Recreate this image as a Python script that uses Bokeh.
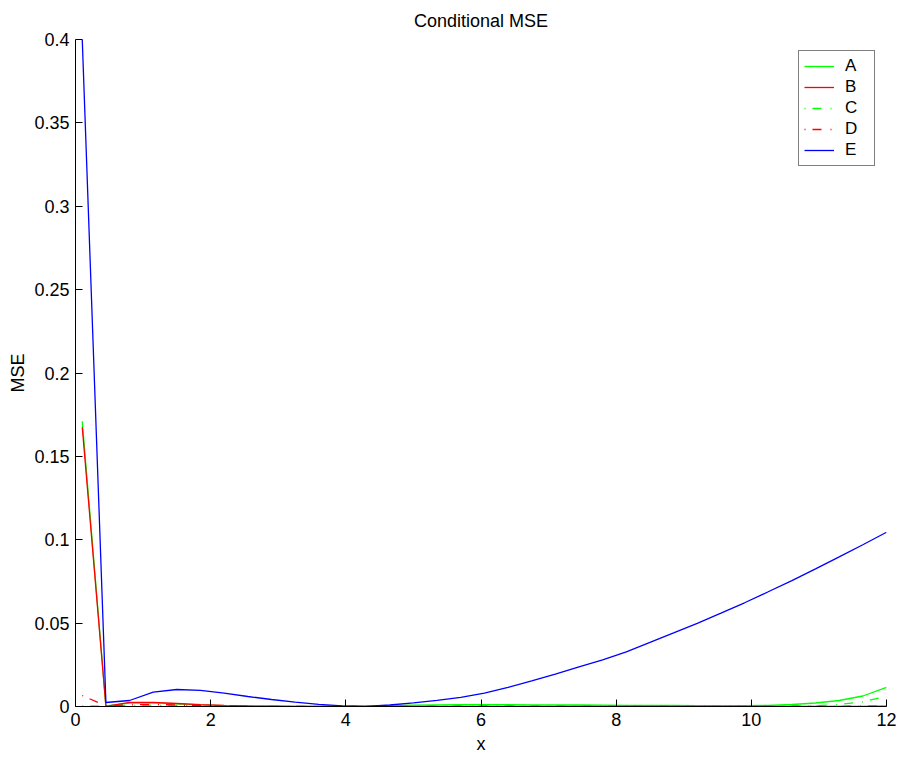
from bokeh.plotting import figure
from bokeh.models import Range1d, FixedTicker, CustomJSTickFormatter, Legend, LegendItem
from bokeh.embed import file_html
from bokeh.resources import INLINE

x = [0.1, 0.45, 0.8, 1.15, 1.5, 1.85, 2.2, 2.55, 2.9, 3.25, 3.6, 3.95, 4.3, 4.65,
     5.0, 5.35, 5.7, 6.05, 6.4, 6.75, 7.1, 7.45, 7.8, 8.15, 8.5, 8.85, 9.2, 9.55,
     9.9, 10.25, 10.6, 10.95, 11.3, 11.65, 12.0]

series_a = [0.171, 0.0003, 0.0020, 0.0022, 0.0016, 0.0009, 0.0005, 0.0003, 0.0002, 0.0001,
            0.0001, 0.0001, 0.0002, 0.0005, 0.0008, 0.0010, 0.0011, 0.0011, 0.0011, 0.0010,
            0.0010, 0.0009, 0.0008, 0.0007, 0.0006, 0.0006, 0.0005, 0.0005, 0.0005, 0.0007,
            0.0012, 0.0021, 0.0036, 0.0063, 0.0115]
series_b = [0.1675, 0.0001, 0.0025, 0.0025, 0.0018, 0.0011, 0.0006, 0.0003, 0.0002, 0.0001,
            0.0001, 0.0001, 0.0001, 0.0001, 0.0001, 0.0001, 0.0001, 0.0001, 0.0001, 0.0001,
            0.0001, 0.0001, 0.0001, 0.0001, 0.0001, 0.0001, 0.0001, 0.0001, 0.0001, 0.0001,
            0.0001, 0.0001, 0.0001, 0.0001, 0.0002]
series_c = [0.0004, 0.0002, 0.0006, 0.0008, 0.0006, 0.0004, 0.0002, 0.0001, 0.0001, 0.0001,
            0.0001, 0.0001, 0.0001, 0.0002, 0.0003, 0.0003, 0.0003, 0.0003, 0.0003, 0.0003,
            0.0002, 0.0002, 0.0002, 0.0002, 0.0002, 0.0002, 0.0002, 0.0002, 0.0002, 0.0002,
            0.0003, 0.0005, 0.0012, 0.0028, 0.0062]
series_d = [0.0066, 0.0003, 0.0010, 0.0012, 0.0009, 0.0005, 0.0003, 0.0001, 0.0001, 0.0001,
            0.0001, 0.0001, 0.0001, 0.0001, 0.0001, 0.0001, 0.0001, 0.0001, 0.0001, 0.0001,
            0.0001, 0.0001, 0.0001, 0.0001, 0.0001, 0.0001, 0.0001, 0.0001, 0.0001, 0.0001,
            0.0001, 0.0001, 0.0001, 0.0002, 0.0003]
series_e = [0.400, 0.0024, 0.0036, 0.0086, 0.0102, 0.0097, 0.0080, 0.0060, 0.0042, 0.0026,
            0.0013, 0.0004, 0.0001, 0.0009, 0.0022, 0.0037, 0.0055, 0.0080, 0.0114, 0.0153,
            0.0194, 0.0237, 0.0280, 0.0328, 0.0384, 0.0441, 0.0499, 0.0560, 0.0622, 0.0688,
            0.0755, 0.0825, 0.0897, 0.0970, 0.1045]

labels = ["A", "B", "C", "D", "E"]
colors = ["#00ff00", "#ff0000", "#00ff00", "#ff0000", "#0000ff"]
dashes = ["solid", "solid", "1 7 9 9", "1 7 9 9", "solid"]
x_ticks = [0, 2, 4, 6, 8, 10, 12]
y_ticks = [0, 0.05, 0.1, 0.15, 0.2, 0.25, 0.3, 0.35, 0.4]

FONT = "Liberation Sans"

p = figure(width=900, height=757, output_backend="svg", toolbar_location=None,
           x_range=Range1d(0, 12), y_range=Range1d(0, 0.4),
           title="Conditional MSE", x_axis_label="x", y_axis_label="MSE",
           min_border_left=75, min_border_right=14, min_border_top=0, min_border_bottom=51)

p.title.align = "center"
p.title.text_font = FONT
p.title.text_font_size = "18px"
p.title.text_font_style = "normal"
p.title.text_color = "black"
p.title.standoff = 17

p.outline_line_color = None
p.grid.visible = False
p.background_fill_color = "white"
p.border_fill_color = "white"

for ax in (p.xaxis[0], p.yaxis[0]):
    ax.axis_line_color = "black"
    ax.major_tick_in = 7
    ax.major_tick_out = 0
    ax.minor_tick_line_color = None
    ax.major_tick_line_color = "black"
    ax.major_label_text_font = FONT
    ax.major_label_text_font_size = "18px"
    ax.major_label_text_color = "black"
    ax.axis_label_text_font = FONT
    ax.axis_label_text_font_size = "18px"
    ax.axis_label_text_font_style = "normal"
    ax.axis_label_text_color = "black"

p.xaxis.ticker = FixedTicker(ticks=x_ticks)
p.yaxis.ticker = FixedTicker(ticks=y_ticks)
p.yaxis.formatter = CustomJSTickFormatter(code="return String(Math.round(tick*100)/100);")
p.xaxis.formatter = CustomJSTickFormatter(code="return String(Math.round(tick*100)/100);")
p.xaxis.major_label_standoff = 6
p.yaxis.major_label_standoff = 6
p.xaxis.axis_label_standoff = 5
p.yaxis.axis_label_standoff = 3

all_series = [series_a, series_b, series_c, series_d, series_e]
legend_items = []
for lab, ys, c, d in zip(labels, all_series, colors, dashes):
    r = p.line(x, ys, line_color=c, line_width=1.3, line_dash=d)
    legend_items.append(LegendItem(label=lab, renderers=[r]))

legend = Legend(items=legend_items,
                location="top_right", margin=11, padding=5, spacing=1,
                glyph_width=30, glyph_height=20, label_height=20, label_width=24,
                label_standoff=11, label_text_font=FONT, label_text_font_size="17px",
                label_text_color="black",
                border_line_color="black", border_line_width=1,
                background_fill_alpha=1.0)
p.add_layout(legend, "center")

open("out.html", "w").write(file_html(p, INLINE))
